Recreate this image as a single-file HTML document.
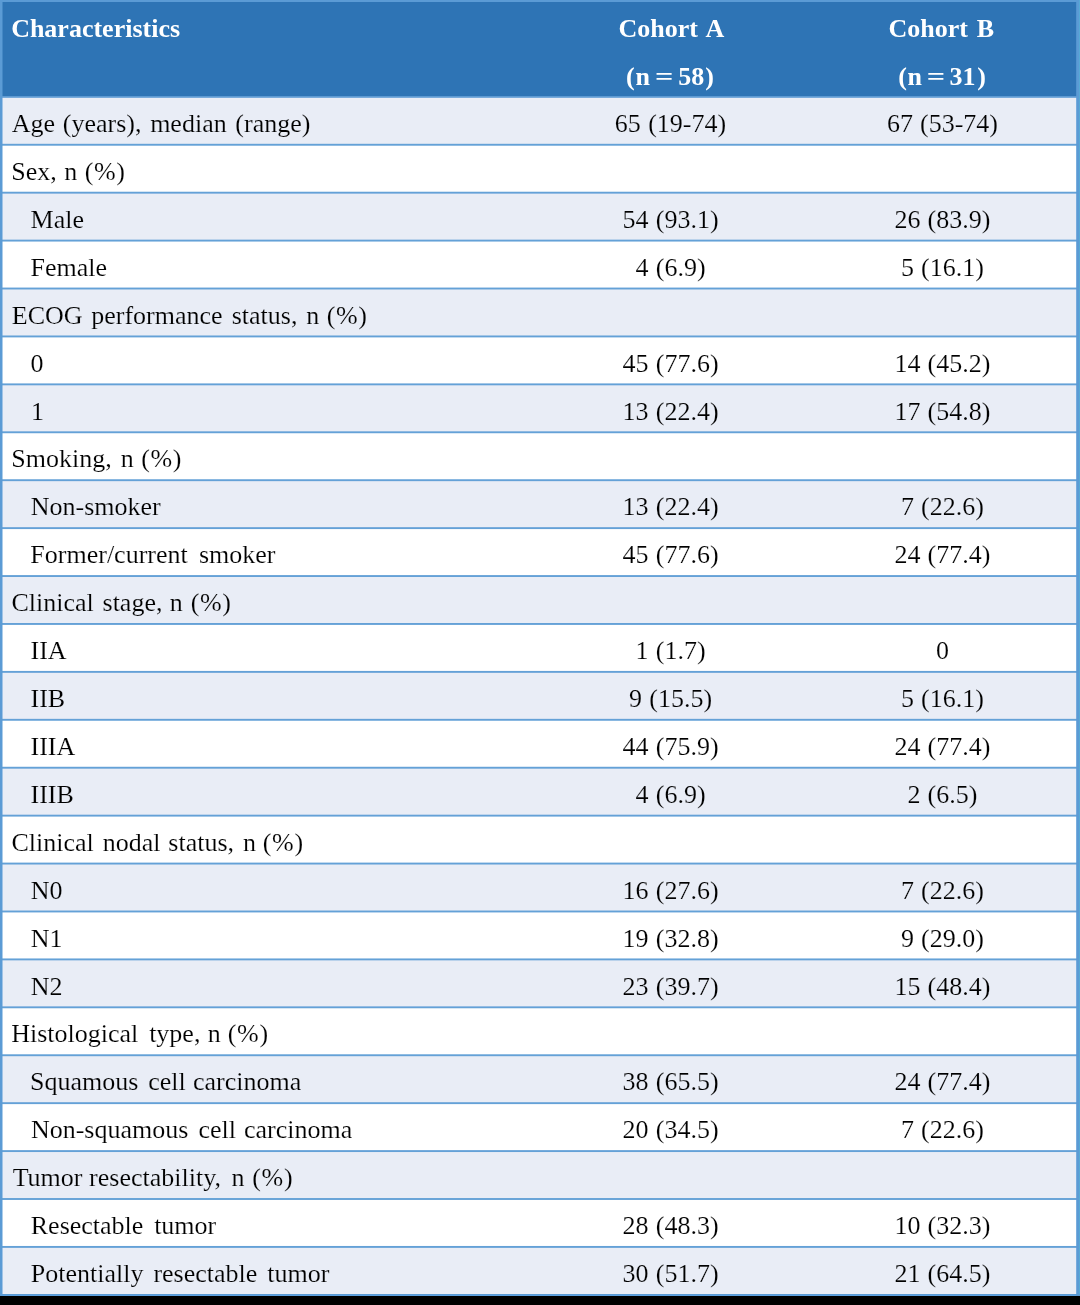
<!DOCTYPE html>
<html><head><meta charset="utf-8"><title>Patient characteristics</title>
<style>
html,body{margin:0;padding:0;background:#000;}
body{width:1080px;height:1305px;overflow:hidden;}
svg{display:block;will-change:transform;}
text{font-family:"Liberation Serif",serif;font-size:26px;fill:#000;stroke-width:0.15px;}
text.h{font-weight:bold;fill:#fff;stroke:none;}
text.m{text-anchor:middle;}
</style></head>
<body>
<svg width="1080" height="1305" viewBox="0 0 1080 1305">
<rect x="0" y="0" width="1080" height="1305" fill="#000"/>
<rect x="0" y="0" width="1080" height="1294.84" fill="#fff"/>
<rect x="0" y="0" width="1080" height="96.84" fill="#2E74B5"/>
<rect x="0" y="96.84" width="1080" height="47.92" fill="#E9EDF6"/>
<rect x="0" y="192.68" width="1080" height="47.92" fill="#E9EDF6"/>
<rect x="0" y="288.52" width="1080" height="47.92" fill="#E9EDF6"/>
<rect x="0" y="384.36" width="1080" height="47.92" fill="#E9EDF6"/>
<rect x="0" y="480.20" width="1080" height="47.92" fill="#E9EDF6"/>
<rect x="0" y="576.04" width="1080" height="47.92" fill="#E9EDF6"/>
<rect x="0" y="671.88" width="1080" height="47.92" fill="#E9EDF6"/>
<rect x="0" y="767.72" width="1080" height="47.92" fill="#E9EDF6"/>
<rect x="0" y="863.56" width="1080" height="47.92" fill="#E9EDF6"/>
<rect x="0" y="959.40" width="1080" height="47.92" fill="#E9EDF6"/>
<rect x="0" y="1055.24" width="1080" height="47.92" fill="#E9EDF6"/>
<rect x="0" y="1151.08" width="1080" height="47.92" fill="#E9EDF6"/>
<rect x="0" y="1246.92" width="1080" height="47.92" fill="#E9EDF6"/>
<rect x="0" y="143.81" width="1080" height="1.9" fill="#64A1D7"/>
<rect x="0" y="191.73" width="1080" height="1.9" fill="#64A1D7"/>
<rect x="0" y="239.65" width="1080" height="1.9" fill="#64A1D7"/>
<rect x="0" y="287.57" width="1080" height="1.9" fill="#64A1D7"/>
<rect x="0" y="335.49" width="1080" height="1.9" fill="#64A1D7"/>
<rect x="0" y="383.41" width="1080" height="1.9" fill="#64A1D7"/>
<rect x="0" y="431.33" width="1080" height="1.9" fill="#64A1D7"/>
<rect x="0" y="479.25" width="1080" height="1.9" fill="#64A1D7"/>
<rect x="0" y="527.17" width="1080" height="1.9" fill="#64A1D7"/>
<rect x="0" y="575.09" width="1080" height="1.9" fill="#64A1D7"/>
<rect x="0" y="623.01" width="1080" height="1.9" fill="#64A1D7"/>
<rect x="0" y="670.93" width="1080" height="1.9" fill="#64A1D7"/>
<rect x="0" y="718.85" width="1080" height="1.9" fill="#64A1D7"/>
<rect x="0" y="766.77" width="1080" height="1.9" fill="#64A1D7"/>
<rect x="0" y="814.69" width="1080" height="1.9" fill="#64A1D7"/>
<rect x="0" y="862.61" width="1080" height="1.9" fill="#64A1D7"/>
<rect x="0" y="910.53" width="1080" height="1.9" fill="#64A1D7"/>
<rect x="0" y="958.45" width="1080" height="1.9" fill="#64A1D7"/>
<rect x="0" y="1006.37" width="1080" height="1.9" fill="#64A1D7"/>
<rect x="0" y="1054.29" width="1080" height="1.9" fill="#64A1D7"/>
<rect x="0" y="1102.21" width="1080" height="1.9" fill="#64A1D7"/>
<rect x="0" y="1150.13" width="1080" height="1.9" fill="#64A1D7"/>
<rect x="0" y="1198.05" width="1080" height="1.9" fill="#64A1D7"/>
<rect x="0" y="1245.97" width="1080" height="1.9" fill="#64A1D7"/>
<rect x="0" y="96.29" width="1080" height="1.5" fill="#5B9BD5"/>
<rect x="0" y="1294" width="1080" height="1" fill="#5B9BD5"/>
<rect x="0" y="1295" width="1080" height="1" fill="#5DA1E0"/>
<rect x="0" y="0" width="1080" height="2" fill="#5B9BD5"/>
<rect x="0" y="0" width="2.5" height="1296.00" fill="#5B9BD5"/>
<rect x="1076.2" y="0" width="3.8" height="1296.00" fill="#5B9BD5"/>
<rect x="1079" y="0" width="1" height="1294" fill="#57A9D6"/>
<text x="11.13" y="36.80" class="h">Characteristics</text>
<text x="618.53" y="36.80" class="h">Cohort</text>
<text x="705.55" y="36.80" class="h">A</text>
<text x="888.53" y="36.80" class="h">Cohort</text>
<text x="976.77" y="36.80" class="h">B</text>
<text x="626.06" y="84.72" class="h">(</text>
<text x="635.50" y="84.72" class="h">n</text>
<text transform="translate(656.60 84.72) scale(1.24 1)" x="-1.29" y="0" class="h">=</text>
<text x="678.26" y="84.72" class="h">58</text>
<text x="705.26" y="84.72" class="h">)</text>
<text x="898.16" y="84.72" class="h">(</text>
<text x="907.40" y="84.72" class="h">n</text>
<text transform="translate(928.40 84.72) scale(1.24 1)" x="-1.29" y="0" class="h">=</text>
<text x="949.62" y="84.72" class="h">31</text>
<text x="977.16" y="84.72" class="h">)</text>
<text x="11.75" y="131.99" stroke="#E9EDF6">Age</text>
<text x="62.76" y="131.99" stroke="#E9EDF6">(years),</text>
<text x="150.15" y="131.99" stroke="#E9EDF6">median</text>
<text x="235.36" y="131.99" stroke="#E9EDF6">(range)</text>
<text x="670.5" y="131.99" class="m" stroke="#E9EDF6" style="word-spacing:0.8px">65 (19-74)</text>
<text x="942.5" y="131.99" class="m" stroke="#E9EDF6" style="word-spacing:0.5px">67 (53-74)</text>
<text x="11.26" y="179.91" stroke="#FFFFFF">Sex,</text>
<text x="64.20" y="179.91" stroke="#FFFFFF">n</text>
<text x="84.76" y="179.91" stroke="#FFFFFF" letter-spacing="0.6">(%)</text>
<text x="30.55" y="227.83" stroke="#E9EDF6">Male</text>
<text x="670.5" y="227.83" class="m" stroke="#E9EDF6" style="word-spacing:0.8px">54 (93.1)</text>
<text x="942.5" y="227.83" class="m" stroke="#E9EDF6" style="word-spacing:0.5px">26 (83.9)</text>
<text x="30.55" y="275.75" stroke="#FFFFFF">Female</text>
<text x="670.5" y="275.75" class="m" stroke="#FFFFFF" style="word-spacing:0.8px">4 (6.9)</text>
<text x="942.5" y="275.75" class="m" stroke="#FFFFFF" style="word-spacing:0.5px">5 (16.1)</text>
<text x="11.85" y="323.67" stroke="#E9EDF6">ECOG</text>
<text x="91.28" y="323.67" stroke="#E9EDF6">performance</text>
<text x="231.73" y="323.67" stroke="#E9EDF6">status,</text>
<text x="306.30" y="323.67" stroke="#E9EDF6">n</text>
<text x="326.76" y="323.67" stroke="#E9EDF6" letter-spacing="0.6">(%)</text>
<text x="30.51" y="371.59" stroke="#FFFFFF">0</text>
<text x="670.5" y="371.59" class="m" stroke="#FFFFFF" style="word-spacing:0.8px">45 (77.6)</text>
<text x="942.5" y="371.59" class="m" stroke="#FFFFFF" style="word-spacing:0.5px">14 (45.2)</text>
<text x="31.01" y="419.51" stroke="#E9EDF6">1</text>
<text x="670.5" y="419.51" class="m" stroke="#E9EDF6" style="word-spacing:0.8px">13 (22.4)</text>
<text x="942.5" y="419.51" class="m" stroke="#E9EDF6" style="word-spacing:0.5px">17 (54.8)</text>
<text x="11.26" y="467.43" stroke="#FFFFFF">Smoking,</text>
<text x="120.70" y="467.43" stroke="#FFFFFF">n</text>
<text x="141.26" y="467.43" stroke="#FFFFFF" letter-spacing="0.6">(%)</text>
<text x="30.75" y="515.35" stroke="#E9EDF6">Non-smoker</text>
<text x="670.5" y="515.35" class="m" stroke="#E9EDF6" style="word-spacing:0.8px">13 (22.4)</text>
<text x="942.5" y="515.35" class="m" stroke="#E9EDF6" style="word-spacing:0.5px">7 (22.6)</text>
<text x="30.35" y="563.27" stroke="#FFFFFF">Former/current</text>
<text x="198.93" y="563.27" stroke="#FFFFFF">smoker</text>
<text x="670.5" y="563.27" class="m" stroke="#FFFFFF" style="word-spacing:0.8px">45 (77.6)</text>
<text x="942.5" y="563.27" class="m" stroke="#FFFFFF" style="word-spacing:0.5px">24 (77.4)</text>
<text x="11.43" y="611.19" stroke="#E9EDF6">Clinical</text>
<text x="102.53" y="611.19" stroke="#E9EDF6">stage,</text>
<text x="169.70" y="611.19" stroke="#E9EDF6">n</text>
<text x="190.66" y="611.19" stroke="#E9EDF6" letter-spacing="0.6">(%)</text>
<text x="30.56" y="659.11" stroke="#FFFFFF">IIA</text>
<text x="670.5" y="659.11" class="m" stroke="#FFFFFF" style="word-spacing:0.8px">1 (1.7)</text>
<text x="942.5" y="659.11" class="m" stroke="#FFFFFF" style="word-spacing:0.5px">0</text>
<text x="30.56" y="707.03" stroke="#E9EDF6">IIB</text>
<text x="670.5" y="707.03" class="m" stroke="#E9EDF6" style="word-spacing:0.8px">9 (15.5)</text>
<text x="942.5" y="707.03" class="m" stroke="#E9EDF6" style="word-spacing:0.5px">5 (16.1)</text>
<text x="30.56" y="754.95" stroke="#FFFFFF">IIIA</text>
<text x="670.5" y="754.95" class="m" stroke="#FFFFFF" style="word-spacing:0.8px">44 (75.9)</text>
<text x="942.5" y="754.95" class="m" stroke="#FFFFFF" style="word-spacing:0.5px">24 (77.4)</text>
<text x="30.56" y="802.87" stroke="#E9EDF6">IIIB</text>
<text x="670.5" y="802.87" class="m" stroke="#E9EDF6" style="word-spacing:0.8px">4 (6.9)</text>
<text x="942.5" y="802.87" class="m" stroke="#E9EDF6" style="word-spacing:0.5px">2 (6.5)</text>
<text x="11.43" y="850.79" stroke="#FFFFFF">Clinical</text>
<text x="102.70" y="850.79" stroke="#FFFFFF">nodal</text>
<text x="168.33" y="850.79" stroke="#FFFFFF">status,</text>
<text x="242.90" y="850.79" stroke="#FFFFFF">n</text>
<text x="262.86" y="850.79" stroke="#FFFFFF" letter-spacing="0.6">(%)</text>
<text x="30.75" y="898.71" stroke="#E9EDF6">N0</text>
<text x="670.5" y="898.71" class="m" stroke="#E9EDF6" style="word-spacing:0.8px">16 (27.6)</text>
<text x="942.5" y="898.71" class="m" stroke="#E9EDF6" style="word-spacing:0.5px">7 (22.6)</text>
<text x="30.75" y="946.63" stroke="#FFFFFF">N1</text>
<text x="670.5" y="946.63" class="m" stroke="#FFFFFF" style="word-spacing:0.8px">19 (32.8)</text>
<text x="942.5" y="946.63" class="m" stroke="#FFFFFF" style="word-spacing:0.5px">9 (29.0)</text>
<text x="30.75" y="994.55" stroke="#E9EDF6">N2</text>
<text x="670.5" y="994.55" class="m" stroke="#E9EDF6" style="word-spacing:0.8px">23 (39.7)</text>
<text x="942.5" y="994.55" class="m" stroke="#E9EDF6" style="word-spacing:0.5px">15 (48.4)</text>
<text x="11.15" y="1042.47" stroke="#FFFFFF">Histological</text>
<text x="149.15" y="1042.47" stroke="#FFFFFF">type,</text>
<text x="207.70" y="1042.47" stroke="#FFFFFF">n</text>
<text x="227.86" y="1042.47" stroke="#FFFFFF" letter-spacing="0.6">(%)</text>
<text x="29.96" y="1090.39" stroke="#E9EDF6">Squamous</text>
<text x="148.21" y="1090.39" stroke="#E9EDF6">cell</text>
<text x="193.01" y="1090.39" stroke="#E9EDF6">carcinoma</text>
<text x="670.5" y="1090.39" class="m" stroke="#E9EDF6" style="word-spacing:0.8px">38 (65.5)</text>
<text x="942.5" y="1090.39" class="m" stroke="#E9EDF6" style="word-spacing:0.5px">24 (77.4)</text>
<text x="30.95" y="1138.31" stroke="#FFFFFF">Non-squamous</text>
<text x="198.51" y="1138.31" stroke="#FFFFFF">cell</text>
<text x="243.91" y="1138.31" stroke="#FFFFFF">carcinoma</text>
<text x="670.5" y="1138.31" class="m" stroke="#FFFFFF" style="word-spacing:0.8px">20 (34.5)</text>
<text x="942.5" y="1138.31" class="m" stroke="#FFFFFF" style="word-spacing:0.5px">7 (22.6)</text>
<text x="12.63" y="1186.23" stroke="#E9EDF6">Tumor</text>
<text x="89.08" y="1186.23" stroke="#E9EDF6">resectability,</text>
<text x="231.60" y="1186.23" stroke="#E9EDF6">n</text>
<text x="252.36" y="1186.23" stroke="#E9EDF6" letter-spacing="0.6">(%)</text>
<text x="30.75" y="1234.15" stroke="#FFFFFF">Resectable</text>
<text x="154.15" y="1234.15" stroke="#FFFFFF">tumor</text>
<text x="670.5" y="1234.15" class="m" stroke="#FFFFFF" style="word-spacing:0.8px">28 (48.3)</text>
<text x="942.5" y="1234.15" class="m" stroke="#FFFFFF" style="word-spacing:0.5px">10 (32.3)</text>
<text x="30.75" y="1282.07" stroke="#E9EDF6">Potentially</text>
<text x="153.38" y="1282.07" stroke="#E9EDF6">resectable</text>
<text x="267.35" y="1282.07" stroke="#E9EDF6">tumor</text>
<text x="670.5" y="1282.07" class="m" stroke="#E9EDF6" style="word-spacing:0.8px">30 (51.7)</text>
<text x="942.5" y="1282.07" class="m" stroke="#E9EDF6" style="word-spacing:0.5px">21 (64.5)</text>
</svg>
</body></html>
